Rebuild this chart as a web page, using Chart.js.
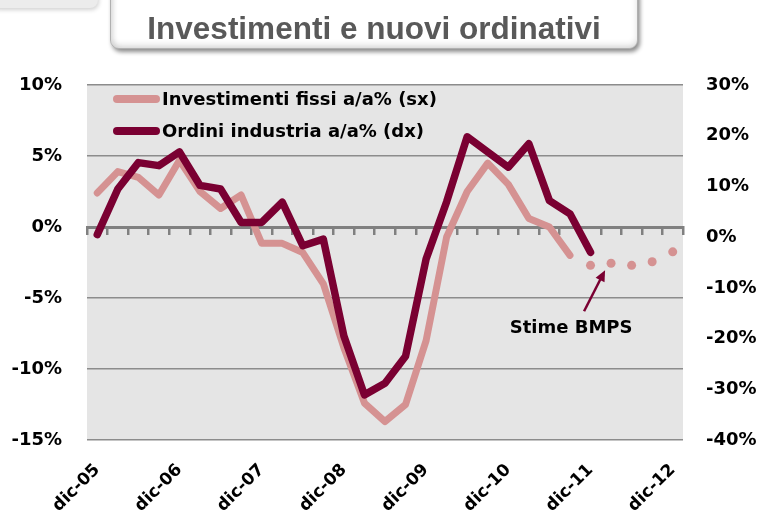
<!DOCTYPE html>
<html>
<head>
<meta charset="utf-8">
<title>Investimenti e nuovi ordinativi</title>
<script src="https://cdn.jsdelivr.net/npm/chart.js@4.4.1/dist/chart.umd.min.js"></script>
<style>
    html, body { margin: 0; padding: 0; background: #ffffff; }
    #contenitore { position: relative; width: 761px; height: 518px; overflow: hidden; }
    #grafico { position: absolute; left: 0; top: 0; }
    #angolo {
        position: absolute; left: -10px; top: -22px; width: 108px; height: 30px;
        border-radius: 8px; background: #ececec;
        box-shadow: 1px 2px 4px rgba(0, 0, 0, 0.18);
    }
    #titolo {
        position: absolute; left: 110px; top: -14px; width: 528px; height: 63px;
        box-sizing: border-box; background: #ffffff;
        border: 1px solid #b0b0b0; border-radius: 9px;
        box-shadow: 2px 3px 4px rgba(0, 0, 0, 0.45), inset 0 -3px 6px rgba(0, 0, 0, 0.12), inset 3px 0 5px rgba(0, 0, 0, 0.08);
        font-family: "Liberation Sans", Arial, sans-serif; font-weight: bold; font-size: 31.5px;
        color: #595959; text-align: center; padding-top: 23px; line-height: 36px;
        white-space: nowrap;
    }
</style>
</head>
<body>
<div id="contenitore">
    <canvas id="grafico" width="761" height="518"></canvas>
    <div id="angolo"></div>
    <div id="titolo">Investimenti e nuovi ordinativi</div>
</div>
<script>
// trimestri da dic-05 a dic-12
var trimestri = ['dic-05', 'mar-06', 'giu-06', 'set-06', 'dic-06', 'mar-07', 'giu-07', 'set-07',
    'dic-07', 'mar-08', 'giu-08', 'set-08', 'dic-08', 'mar-09', 'giu-09', 'set-09',
    'dic-09', 'mar-10', 'giu-10', 'set-10', 'dic-10', 'mar-11', 'giu-11', 'set-11',
    'dic-11', 'mar-12', 'giu-12', 'set-12', 'dic-12'];

// Investimenti fissi a/a% (asse sx)
var investimenti = [2.4, 3.9, 3.5, 2.25, 4.7, 2.5, 1.3, 2.25,
    -1.15, -1.15, -1.8, -4.0, -8.5, -12.4, -13.7, -12.5,
    -8.0, -0.7, 2.5, 4.5, 3.0, 0.6, 0.0, -2.0,
    null, null, null, null, null];

// Ordini industria a/a% (asse dx)
var ordini = [0.5, 9.5, 14.7, 14.1, 16.8, 10.2, 9.5, 2.9,
    2.9, 6.9, -1.7, -0.4, -19.5, -31.1, -28.8, -23.5,
    -4.3, 7.0, 19.8, 16.8, 13.8, 18.4, 7.2, 4.6,
    -3.0, null, null, null, null];

// Stime BMPS sugli investimenti (asse sx)
var stime = [null, null, null, null, null, null, null, null,
    null, null, null, null, null, null, null, null,
    null, null, null, null, null, null, null, null,
    -2.7, -2.55, -2.7, -2.45, -1.75];

var nomeInvestimenti = 'Investimenti fissi a/a% (sx)';
var nomeOrdini = 'Ordini industria a/a% (dx)';
var testoStime = 'Stime BMPS';

var coloreScuro = '#7a0032';
var coloreChiaro = '#d59292';
var fontBase = '"DejaVu Sans", sans-serif';

Chart.defaults.font.family = fontBase;
Chart.defaults.color = '#000000';

var sfondoArea = {
    id: 'sfondoArea',
    beforeDraw: function (chart) {
        var ctx = chart.ctx, a = chart.chartArea;
        ctx.save();
        ctx.fillStyle = '#e5e5e5';
        ctx.fillRect(a.left, a.top, a.right - a.left, a.bottom - a.top);
        ctx.restore();
    }
};

var legendaInterna = {
    id: 'legendaInterna',
    afterDraw: function (chart) {
        var ctx = chart.ctx, a = chart.chartArea;
        var voci = [
            {testo: nomeInvestimenti, colore: coloreChiaro},
            {testo: nomeOrdini, colore: coloreScuro}
        ];
        ctx.save();
        ctx.font = 'bold 18px ' + fontBase;
        ctx.textBaseline = 'middle';
        voci.forEach(function (v, i) {
            var y = a.top + 14 + i * 32;
            ctx.strokeStyle = v.colore;
            ctx.lineWidth = 8;
            ctx.lineCap = 'round';
            ctx.beginPath();
            ctx.moveTo(a.left + 30, y);
            ctx.lineTo(a.left + 69, y);
            ctx.stroke();
            ctx.fillStyle = '#000000';
            ctx.fillText(v.testo, a.left + 75, y + 1);
        });
        ctx.restore();
    }
};

var notaStime = {
    id: 'notaStime',
    afterDraw: function (chart) {
        var ctx = chart.ctx;
        var x = chart.scales.x.getPixelForValue(25);
        var y = chart.scales.y.getPixelForValue(stime[25]);
        var punta = {x: x - 6, y: y + 7};
        var coda = {x: x - 27, y: y + 48};
        var ang = Math.atan2(punta.y - coda.y, punta.x - coda.x);
        ctx.save();
        ctx.strokeStyle = coloreScuro;
        ctx.fillStyle = coloreScuro;
        ctx.lineWidth = 2.5;
        ctx.beginPath();
        ctx.moveTo(coda.x, coda.y);
        ctx.lineTo(punta.x - 6 * Math.cos(ang), punta.y - 6 * Math.sin(ang));
        ctx.stroke();
        ctx.beginPath();
        ctx.moveTo(punta.x, punta.y);
        ctx.lineTo(punta.x - 11 * Math.cos(ang) + 5 * Math.sin(ang), punta.y - 11 * Math.sin(ang) - 5 * Math.cos(ang));
        ctx.lineTo(punta.x - 11 * Math.cos(ang) - 5 * Math.sin(ang), punta.y - 11 * Math.sin(ang) + 5 * Math.cos(ang));
        ctx.closePath();
        ctx.fill();
        ctx.font = 'bold 18px ' + fontBase;
        ctx.fillStyle = '#000000';
        ctx.textAlign = 'center';
        ctx.textBaseline = 'middle';
        ctx.fillText(testoStime, x - 40, y + 65);
        ctx.restore();
    }
};

var ctx = document.getElementById('grafico').getContext('2d');
var grafico = new Chart(ctx, {
    type: 'line',
    data: {
        labels: trimestri,
        datasets: [{
                label: nomeOrdini,
                data: ordini,
                yAxisID: 'yDx',
                borderColor: coloreScuro,
                backgroundColor: coloreScuro,
                borderWidth: 7.5,
                borderJoinStyle: 'round',
                borderCapStyle: 'round',
                pointRadius: 0,
                order: 0
            }, {
                label: nomeInvestimenti,
                data: investimenti,
                yAxisID: 'y',
                borderColor: coloreChiaro,
                backgroundColor: coloreChiaro,
                borderWidth: 7,
                borderJoinStyle: 'round',
                borderCapStyle: 'round',
                pointRadius: 0,
                order: 1
            }, {
                label: testoStime,
                data: stime,
                yAxisID: 'y',
                showLine: false,
                pointRadius: 4.5,
                pointBorderWidth: 0,
                pointBackgroundColor: coloreChiaro,
                order: 2
            }]
    },
    options: {
        responsive: false,
        animation: false,
        layout: {padding: {top: 85, left: 0, right: 0, bottom: 0}},
        plugins: {
            legend: {display: false},
            tooltip: {enabled: false}
        },
        scales: {
            x: {
                offset: true,
                grid: {display: false},
                border: {display: false},
                ticks: {
                    autoSkip: false,
                    minRotation: 45,
                    maxRotation: 45,
                    padding: 12,
                    color: '#000000',
                    font: {size: 17, weight: 'bold'},
                    callback: function (v, i) {
                        return i % 4 === 0 ? trimestri[i] : '';
                    }
                },
                afterFit: function (s) {
                    s.height = 78;
                }
            },
            xZero: {
                type: 'category',
                axis: 'x',
                position: {y: 0},
                offset: true,
                grid: {offset: true, drawOnChartArea: false, drawTicks: true, tickLength: 6, color: '#808080', lineWidth: 2.5},
                border: {display: true, color: '#808080', width: 3},
                ticks: {display: false}
            },
            y: {
                position: 'left',
                min: -15,
                max: 10,
                ticks: {
                    stepSize: 5,
                    padding: 25,
                    color: '#000000',
                    font: {size: 18, weight: 'bold'},
                    callback: function (v) {
                        return v + '%';
                    }
                },
                grid: {color: '#8c8c8c', lineWidth: 1.5, drawTicks: false},
                border: {display: false},
                afterFit: function (s) {
                    s.width = 87;
                }
            },
            yDx: {
                position: 'right',
                min: -40,
                max: 30,
                ticks: {
                    stepSize: 10,
                    padding: 23,
                    color: '#000000',
                    font: {size: 18, weight: 'bold'},
                    callback: function (v) {
                        return v + '%';
                    }
                },
                grid: {drawOnChartArea: false, drawTicks: false},
                border: {display: false},
                afterFit: function (s) {
                    s.width = 78;
                }
            }
        }
    },
    plugins: [sfondoArea, legendaInterna, notaStime]
});
</script>
</body>
</html>
